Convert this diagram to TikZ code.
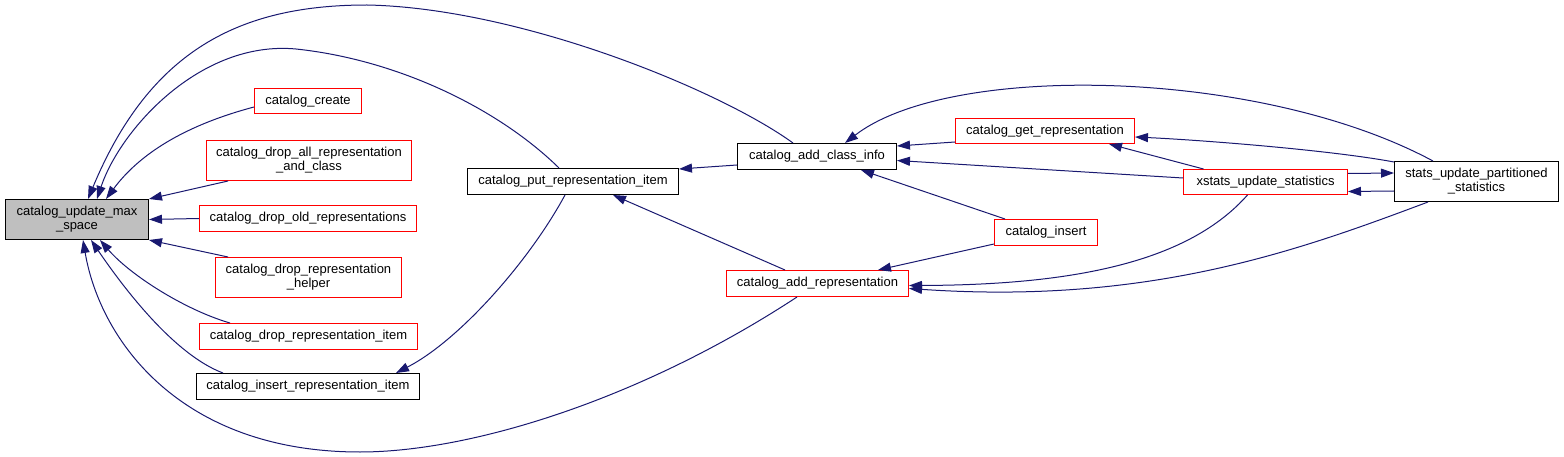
\documentclass[tikz,border=0pt]{standalone}
\usepackage{fontspec}
\setmainfont{Liberation Sans}
\usetikzlibrary{arrows.meta,calc}
\definecolor{navyc}{HTML}{191970}
\definecolor{boxgray}{HTML}{BFBFBF}
\tikzset{
  box/.style={draw=black, line width=1pt, font=\fontsize{13}{14}\selectfont, align=center, inner sep=0pt, minimum height=26pt},
  redbox/.style={box, draw=red},
  edge/.style={draw=navyc, line width=1pt, -{Triangle[length=13pt,width=9pt]}}
}
\begin{document}
\begin{tikzpicture}[x=1pt,y=-1pt]
\useasboundingbox (0,0) rectangle (1564,457);
% nodes
\node[box, fill=boxgray, minimum width=143pt, minimum height=40pt] (main) at (77,219.5) {catalog\_update\_max\\\_space};
\node[redbox, minimum width=107pt, minimum height=25pt] (create) at (308,101) {catalog\_create};
\node[redbox, minimum width=205pt, minimum height=40pt] (dropall) at (309,160.5) {catalog\_drop\_all\_representation\\\_and\_class};
\node[redbox, minimum width=217pt] (dropold) at (308,218.5) {catalog\_drop\_old\_representations};
\node[redbox, minimum width=186pt, minimum height=40pt] (helper) at (308.5,277.5) {catalog\_drop\_representation\\\_helper};
\node[redbox, minimum width=218pt] (dropitem) at (308.5,336.5) {catalog\_drop\_representation\_item};
\node[box, minimum width=223pt] (insitem) at (308,386.5) {catalog\_insert\_representation\_item};
\node[box, minimum width=211pt] (put) at (573,181.5) {catalog\_put\_representation\_item};
\node[box, minimum width=159pt] (aci) at (817,156.5) {catalog\_add\_class\_info};
\node[redbox, minimum width=182pt] (addrep) at (817.5,283.5) {catalog\_add\_representation};
\node[redbox, minimum width=179pt, minimum height=25pt] (getrep) at (1045,131) {catalog\_get\_representation};
\node[redbox, minimum width=103pt] (cins) at (1046,232.5) {catalog\_insert};
\node[redbox, minimum width=164pt, minimum height=25pt] (xstats) at (1265.5,182) {xstats\_update\_statistics};
\node[box, minimum width=164pt, minimum height=40pt] (stats) at (1476.5,181.5) {stats\_update\_partitioned\\\_statistics};
% edges into main
\draw[edge] ($(create.west)+(0,6)$) .. controls (175,128) and (135,160) .. ($(main.north west)+(101,0)$);
\draw[edge] ($(dropall.south west)+(22,0)$) -- (main.north east);
\draw[edge] (dropold.west) -- (main.east);
\draw[edge] ($(helper.north west)+(13,0)$) -- (main.south east);
\draw[edge] ($(dropitem.north west)+(31,0)$) .. controls (185,310) and (130,275) .. ($(main.south west)+(95,0)$);
\draw[edge] ($(insitem.north west)+(27,0)$) .. controls (175,355) and (125,290) .. ($(main.south west)+(86,0)$);
\draw[edge] ($(addrep.south west)+(71,0)$) .. controls (640,400) and (470,452) .. (360,452) .. controls (180,452) and (100,340) .. ($(main.south west)+(78,0)$);
\draw[edge] ($(put.north west)+(92,0)$) .. controls (500,110) and (400,60) .. (296,49) .. controls (200,40) and (120,130) .. ($(main.north west)+(92,0)$);
\draw[edge] ($(aci.north west)+(56,0)$) .. controls (720,90) and (520,8) .. (367,5) .. controls (240,5) and (150,50) .. ($(main.north west)+(83,0)$);
% put calls insert item
\draw[edge] ($(put.south west)+(98,0)$) .. controls (530,260) and (460,340) .. ($(insitem.north east)+(-24,0)$);
% into put
\draw[edge] ($(aci.south west)+(0,-5)$) -- ($(put.north east)+(0,1)$);
\draw[edge] ($(addrep.north west)+(59,0)$) -- ($(put.south)+(40,0)$);
% into add_class_info
\draw[edge] ($(getrep.south west)+(0,-2)$) -- ($(aci.north east)+(0,3)$);
\draw[edge] ($(xstats.west)+(0,-4)$) -- ($(aci.east)+(0,4)$);
\draw[edge] ($(cins.north west)+(11,0)$) -- ($(aci.south east)+(-36,0)$);
\draw[edge] ($(stats.north west)+(39,0)$) .. controls (1260,68) and (950,62) .. ($(aci.north)+(28,0)$);
% into add_representation
\draw[edge] ($(cins.south west)+(0,-2)$) -- ($(addrep.north east)+(-31,0)$);
\draw[edge] ($(xstats.south)+(-18,0)$) .. controls (1190,260) and (1080,285) .. ($(addrep.east)+(0,2)$);
\draw[edge] ($(stats.south west)+(34,0)$) .. controls (1300,250) and (1150,305) .. ($(addrep.east)+(0,5)$);
% into get_representation
\draw[edge] ($(xstats.north)+(-62,0)$) -- ($(getrep.south east)+(-26,0)$);
\draw[edge] ($(stats.north west)+(0,1)$) .. controls (1330,150) and (1200,140) .. ($(getrep.east)+(0,6)$);
% mutual xstats / stats
\draw[edge] ($(xstats.east)+(0,-8.5)$) -- ($(stats.west)+(0,-8.5)$);
\draw[edge] ($(stats.west)+(0,9.5)$) -- ($(xstats.east)+(0,9.5)$);
\end{tikzpicture}
\end{document}
